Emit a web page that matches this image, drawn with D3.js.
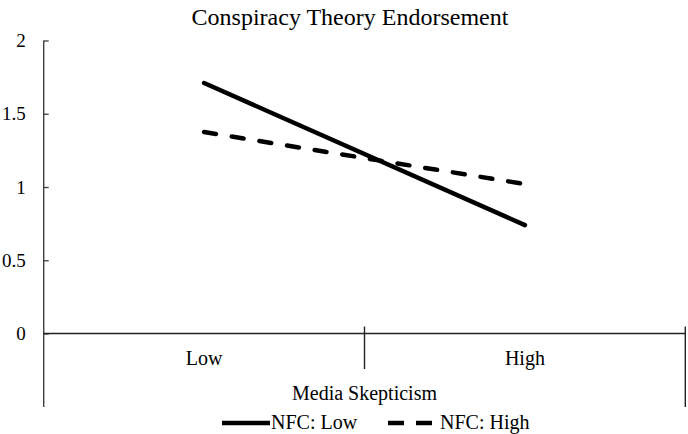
<!DOCTYPE html>
<html><head><meta charset="utf-8">
<script src="https://cdn.jsdelivr.net/npm/d3@7"></script>
<style>body{margin:0;background:#fff}svg{display:block}text{font-family:"Liberation Serif","Times New Roman",serif;fill:#000}</style>
</head><body><svg id="c" width="688" height="434"></svg>
<script>
const title = "Conspiracy Theory Endorsement";
const categories = ["Low", "High"];
const xTitle = "Media Skepticism";
const seriesNames = ["NFC: Low", "NFC: High"];
const nfcLow = [1.71, 0.74];
const nfcHigh = [1.375, 1.02];
const yTicks = [0, 0.5, 1, 1.5, 2];
const series = [
  {name: seriesNames[0], values: nfcLow, dash: null},
  {name: seriesNames[1], values: nfcHigh, dash: "12,16"}
];

const svg = d3.select("#c");
const pLeft = 43.7, pRight = 685.3, pTop = 40.5, pBottom = 333.5;
const y = d3.scaleLinear().domain([0, 2]).range([pBottom, pTop]);
const x = d3.scaleBand().domain(categories).range([pLeft, pRight]).padding(0);

// title
svg.append("text").attr("x", 350).attr("y", 25).attr("text-anchor", "middle")
  .style("font-size", "24px").text(title);

// y axis
const yAxis = d3.axisLeft(y).tickValues(yTicks).tickSizeInner(-5).tickSizeOuter(0).tickPadding(18)
  .tickFormat(d => d3.format("")(d));
const gy = svg.append("g").attr("transform", `translate(${pLeft},0)`).call(yAxis)
  .attr("font-family", '"Liberation Serif",serif');
gy.select(".domain").remove();
gy.selectAll(".tick line").attr("stroke", "#404040").attr("stroke-width", 1.3);
gy.selectAll(".tick text").style("font-size", "19px").attr("fill", "#000");
svg.append("line").attr("x1", pLeft).attr("x2", pLeft).attr("y1", pTop).attr("y2", 407)
  .attr("stroke", "#404040").attr("stroke-width", 1.4);

// x axis
svg.append("line").attr("x1", pLeft).attr("x2", pRight).attr("y1", y(0)).attr("y2", y(0))
  .attr("stroke", "#222").attr("stroke-width", 1.4);
const bounds = categories.map(c => x(c)).concat([x(categories[categories.length-1]) + x.bandwidth()]);
bounds.slice(1).forEach((b, i, arr) => {
  const isEdge = i === arr.length - 1;
  svg.append("line").attr("x1", b).attr("x2", b).attr("y1", y(0) - 7).attr("y2", isEdge ? 407 : 369)
    .attr("stroke", "#222").attr("stroke-width", 1.4);
});
svg.selectAll(".cat").data(categories).join("text").attr("class", "cat")
  .attr("x", d => x(d) + x.bandwidth() / 2).attr("y", 365).attr("text-anchor", "middle")
  .style("font-size", "20px").text(d => d);
svg.append("text").attr("x", (pLeft + pRight) / 2).attr("y", 400).attr("text-anchor", "middle")
  .style("font-size", "20px").text(xTitle);

// lines
const line = d3.line().x((d, i) => x(categories[i]) + x.bandwidth() / 2).y(d => y(d));
series.forEach(s => {
  svg.append("path").attr("d", line(s.values)).attr("fill", "none").attr("stroke", "#000")
    .attr("stroke-width", 4.5).attr("stroke-linecap", "round")
    .attr("stroke-dasharray", s.dash);
});

// legend
const lg = [{x1: 222, x2: 270, tx: 271}, {x1: 388, x2: 434, tx: 440}];
series.forEach((s, i) => {
  svg.append("line").attr("x1", lg[i].x1).attr("x2", lg[i].x2).attr("y1", 423).attr("y2", 423)
    .attr("stroke", "#000").attr("stroke-width", 4.5)
    .attr("stroke-dasharray", s.dash ? "16,12" : null);
  svg.append("text").attr("x", lg[i].tx).attr("y", 429).style("font-size", "20px").text(s.name);
});
</script></body></html>
